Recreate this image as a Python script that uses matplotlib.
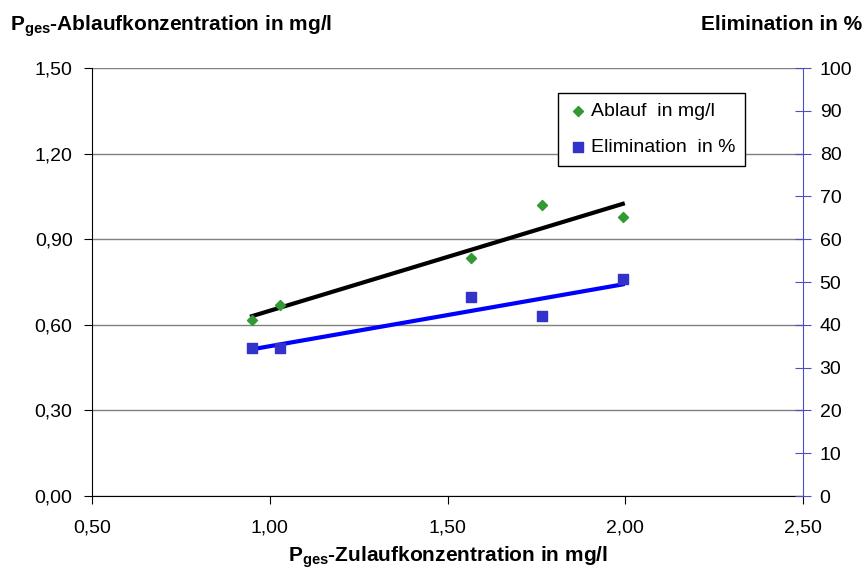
import numpy as np
import matplotlib
matplotlib.use('Agg')
import matplotlib.pyplot as plt
from matplotlib.ticker import FuncFormatter, MultipleLocator

plt.rcParams['font.family'] = ['Liberation Sans', 'DejaVu Sans']
plt.rcParams['mathtext.fontset'] = 'custom'
plt.rcParams['mathtext.rm'] = 'Liberation Sans'
plt.rcParams['mathtext.bf'] = 'Liberation Sans:bold'

# Zulauf (x), Ablauf (left axis), Elimination (right axis)
zulauf = [0.95, 1.03, 1.565, 1.767, 1.993]
ablauf = [0.617, 0.669, 0.833, 1.020, 0.977]
elimination = [34.5, 34.65, 46.6, 42.1, 50.7]

green = '#339933'
blue = '#3333cc'

fig = plt.figure(figsize=(8.66, 5.71), dpi=100)
ax = fig.add_axes([0.1062, 0.1313, 0.8211, 0.7496])
ax2 = ax.twinx()

# left axis data + linear trend
p1 = ax.scatter(zulauf, ablauf, marker='D', s=26, color=green, zorder=3)
c1 = np.polyfit(zulauf, ablauf, 1)
xs = np.array([min(zulauf), max(zulauf)])
ax.plot(xs, np.polyval(c1, xs), color='black', lw=3, zorder=2)

# right axis data + linear trend
p2 = ax2.scatter(zulauf, elimination, marker='s', s=55, color=blue, zorder=3)
c2 = np.polyfit(zulauf, elimination, 1)
ax2.plot(xs, np.polyval(c2, xs), color='#0000ff', lw=3, zorder=2)

ax.set_xlim(0.5, 2.5)
ax.set_ylim(0, 1.5)
ax2.set_ylim(0, 100)
ax.xaxis.set_major_locator(MultipleLocator(0.5))
ax.yaxis.set_major_locator(MultipleLocator(0.3))
ax2.yaxis.set_major_locator(MultipleLocator(10))
comma = FuncFormatter(lambda v, p: f'{v:.2f}'.replace('.', ','))
ax.xaxis.set_major_formatter(comma)
ax.yaxis.set_major_formatter(comma)

ax.grid(axis='y', color='#808080', lw=1)
ax.set_axisbelow(True)
for s in ['top', 'right']:
    ax.spines[s].set_visible(False)
for s in ['top', 'left', 'bottom']:
    ax2.spines[s].set_visible(False)
ax2.spines['right'].set_color('#4d4dcc')
ax.spines['left'].set_color('black')
ax.spines['bottom'].set_color('black')

ax.tick_params(axis='both', labelsize=14, length=6, color='black')
ax.tick_params(axis='x', pad=11)
ax.tick_params(axis='y', pad=8)
ax2.tick_params(axis='y', labelsize=14, length=12, direction='inout', color='#4d4dcc', pad=6)

leg = ax.legend([p1, p2], ['Ablauf  in mg/l', 'Elimination  in %'], loc='upper left',
                bbox_to_anchor=(0.655, 0.942), fontsize=14, frameon=True, fancybox=False,
                edgecolor='black', framealpha=1, handletextpad=0.1, handlelength=1.1,
                borderpad=0.5, labelspacing=0.95, borderaxespad=0)
leg.get_frame().set_linewidth(1)
leg.set_zorder(5)

fig.text(0.012, 0.947, r'P$_\mathbf{ges}$-Ablaufkonzentration in mg/l', fontsize=15,
         fontweight='bold', ha='left', va='baseline')
fig.text(0.996, 0.947, 'Elimination in %', fontsize=15, fontweight='bold', ha='right', va='baseline')
fig.text(0.517, 0.016, r'P$_\mathbf{ges}$-Zulaufkonzentration in mg/l', fontsize=15,
         fontweight='bold', ha='center', va='baseline')

fig.savefig('out.png', dpi=100)
